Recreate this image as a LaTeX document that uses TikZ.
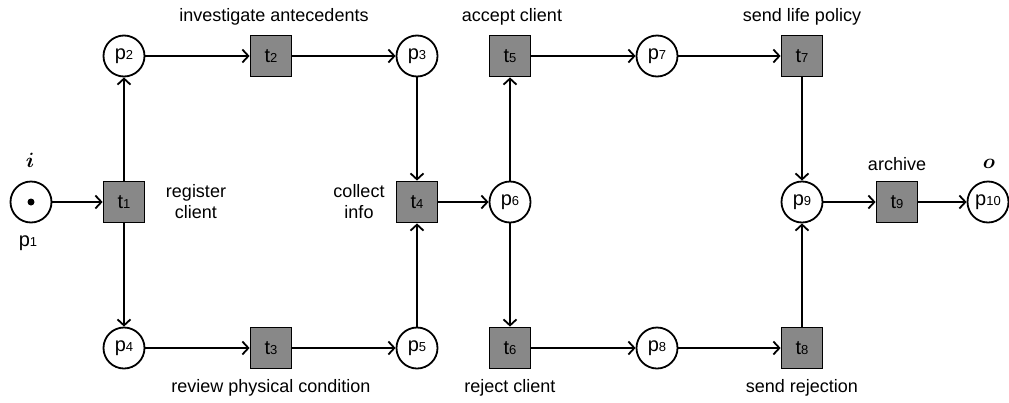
\documentclass[tikz,border=0pt]{standalone}
\usepackage{amsmath}
\usepackage{fontspec}
\setmainfont{Liberation Sans}
\usetikzlibrary{arrows.meta}
\definecolor{transgray}{RGB}{136,136,136}
\newcommand{\idx}[2]{{\fontsize{20}{20}\selectfont #1}{\fontsize{13}{13}\selectfont #2}}

\begin{document}
\begin{tikzpicture}[x=1pt,y=-1pt,line width=1.8pt,node font=\fontsize{18}{21}\selectfont,
	place/.style={circle,draw,minimum size=41pt,inner sep=0pt},
	trans/.style={rectangle,draw,fill=transgray,minimum size=41pt,inner sep=0pt},
	arc/.style={-{Straight Barb[length=6pt,width=13pt,line width=1.8pt]}},
	lbl/.style={align=center,inner sep=0pt}]
	\useasboundingbox (0,0) rectangle (1009,402);
	% places
	\node[place] (p1) at (31,202) {};
	\node[place] (p2) at (124,56) {\idx{p}{2}};
	\node[place] (p3) at (417,56) {\idx{p}{3}};
	\node[place] (p4) at (124,348) {\idx{p}{4}};
	\node[place] (p5) at (417,348) {\idx{p}{5}};
	\node[place] (p6) at (510,202) {\idx{p}{6}};
	\node[place] (p7) at (657,56) {\idx{p}{7}};
	\node[place] (p8) at (657,348) {\idx{p}{8}};
	\node[place] (p9) at (802,202) {\idx{p}{9}};
	\node[place] (p10) at (988,202) {\idx{p}{10}};
	\fill (p1.center) circle (3.5pt);
	% transitions
	\node[trans] (t1) at (124,202) {\idx{t}{1}};
	\node[trans] (t2) at (271,56) {\idx{t}{2}};
	\node[trans] (t3) at (271,348) {\idx{t}{3}};
	\node[trans] (t4) at (417,202) {\idx{t}{4}};
	\node[trans] (t5) at (510,56) {\idx{t}{5}};
	\node[trans] (t6) at (510,348) {\idx{t}{6}};
	\node[trans] (t7) at (802,56) {\idx{t}{7}};
	\node[trans] (t8) at (802,348) {\idx{t}{8}};
	\node[trans] (t9) at (897,202) {\idx{t}{9}};
	% arcs
	\draw[arc] (p1) -- (t1);
	\draw[arc] (t1) -- (p2);
	\draw[arc] (t1) -- (p4);
	\draw[arc] (p2) -- (t2);
	\draw[arc] (t2) -- (p3);
	\draw[arc] (p4) -- (t3);
	\draw[arc] (t3) -- (p5);
	\draw[arc] (p3) -- (t4);
	\draw[arc] (p5) -- (t4);
	\draw[arc] (t4) -- (p6);
	\draw[arc] (p6) -- (t5);
	\draw[arc] (p6) -- (t6);
	\draw[arc] (t5) -- (p7);
	\draw[arc] (p7) -- (t7);
	\draw[arc] (t6) -- (p8);
	\draw[arc] (p8) -- (t8);
	\draw[arc] (t7) -- (p9);
	\draw[arc] (t8) -- (p9);
	\draw[arc] (p9) -- (t9);
	\draw[arc] (t9) -- (p10);
	% labels
	\node[lbl] (lp1) at (28,243) {\idx{p}{1}};
	\node[lbl] (li) at (30,160) {\fontsize{21}{21}\selectfont$\boldsymbol{i}$};
	\node[lbl] (lo) at (989,164) {\fontsize{21}{21}\selectfont$\boldsymbol{o}$};
	\node[lbl] (lt1) at (196,202) {register\\client};
	\node[lbl] (lt2) at (274,17) {investigate antecedents};
	\node[lbl] (lt3) at (271,388) {review physical condition};
	\node[lbl] (lt4) at (359,202) {collect\\info};
	\node[lbl] (lt5) at (512,17) {accept client};
	\node[lbl] (lt6) at (510,388) {reject client};
	\node[lbl] (lt7) at (802,17) {send life policy};
	\node[lbl] (lt8) at (802,388) {send rejection};
	\node[lbl] (lt9) at (897,164) {archive};
\end{tikzpicture}
\end{document}
